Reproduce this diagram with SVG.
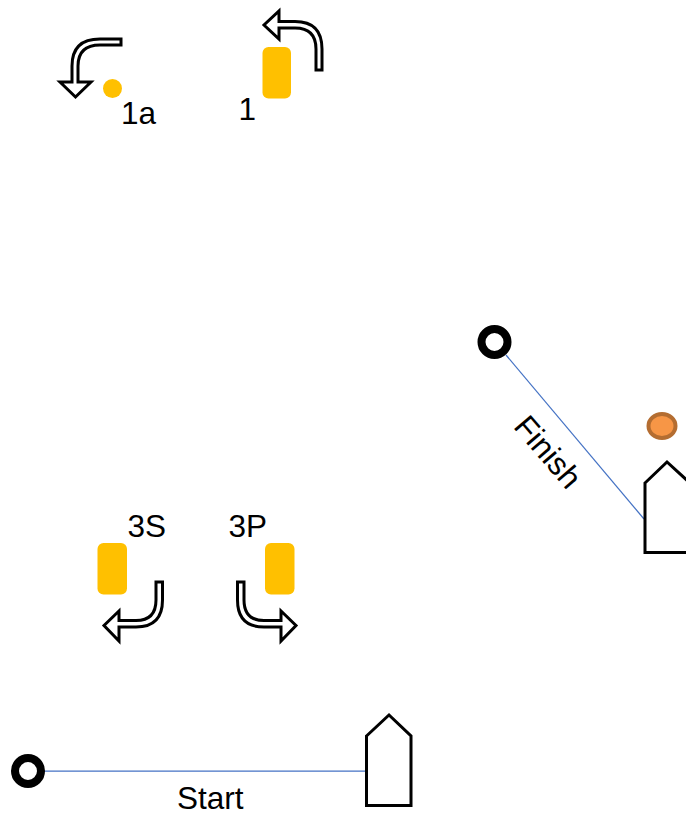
<svg xmlns="http://www.w3.org/2000/svg" width="686" height="816" viewBox="0 0 686 816">
<style>
.t{font-family:"Liberation Sans",Arial,sans-serif;font-size:31.5px;fill:#000}
.y{fill:#FFC000}
.a{fill:#fff;stroke:#000;stroke-width:3;stroke-linejoin:miter}
.b{fill:#fff;stroke:#000;stroke-width:3;stroke-linejoin:miter}
.r{fill:#fff;stroke:#000;stroke-width:8}
.c{fill:none;stroke:#4472C4;stroke-width:1.25}
</style>
<rect width="686" height="816" fill="#fff"/>
<g id="connectors">
<line class="c" x1="44" y1="771" x2="366" y2="771"/>
<line class="c" x1="506" y1="355" x2="644" y2="519"/>
</g>
<g id="buoy-1a"><circle class="y" cx="112.5" cy="88.5" r="9.5"/><text class="t" x="121" y="124">1a</text></g>
<g id="arrow-1a"><path class="a" d="M121 39H100Q72 39 72 66V82H60L75.500 97L91 82H78V66Q78 45 100 45H121Z"/></g>
<g id="buoy-1"><rect class="y" x="262.500" y="47" width="28.500" height="51.500" rx="6"/><text class="t" x="238.500" y="120">1</text></g>
<g id="arrow-1"><path class="a" d="M322 70V49Q322 21.500 295 21.500H279V11L264 25L279 39V28H295Q316 28 316 49V70Z"/></g>
<g id="buoy-3s"><rect class="y" x="97.500" y="543" width="29.500" height="51.500" rx="6"/><text class="t" x="127.500" y="537">3S</text></g>
<g id="arrow-3s"><path class="a" d="M162.500 582V600Q162.500 627 136 627H119V641L104 625.500L119 611V620.500H136Q156 620.500 156 600V582Z"/></g>
<g id="buoy-3p"><rect class="y" x="265" y="543" width="29.500" height="51.500" rx="6"/><text class="t" x="228.500" y="537">3P</text></g>
<g id="arrow-3p"><path class="a" d="M237.500 582V600Q237.500 627 264 627H281V641L296 625.500L281 611V620.500H264Q244 620.500 244 600V582Z"/></g>
<g id="mark-finish"><circle class="r" cx="494.500" cy="342" r="13"/></g>
<g id="mark-start"><circle class="r" cx="28" cy="771" r="13"/></g>
<g id="orange-buoy"><ellipse cx="662" cy="426" rx="13.500" ry="12" fill="#F79646" stroke="#B46D31" stroke-width="4"/></g>
<g id="boat-finish"><path class="b" d="M645 483L667 462L690 483V552.500H645Z"/></g>
<g id="boat-start"><path class="b" d="M366.500 736L389 715L411 736V805.500H366.500Z"/></g>
<g id="label-start"><text class="t" x="177" y="809">Start</text></g>
<g id="label-finish"><text class="t" transform="translate(512.500 427) rotate(49.500)">Finish</text></g>
</svg>
